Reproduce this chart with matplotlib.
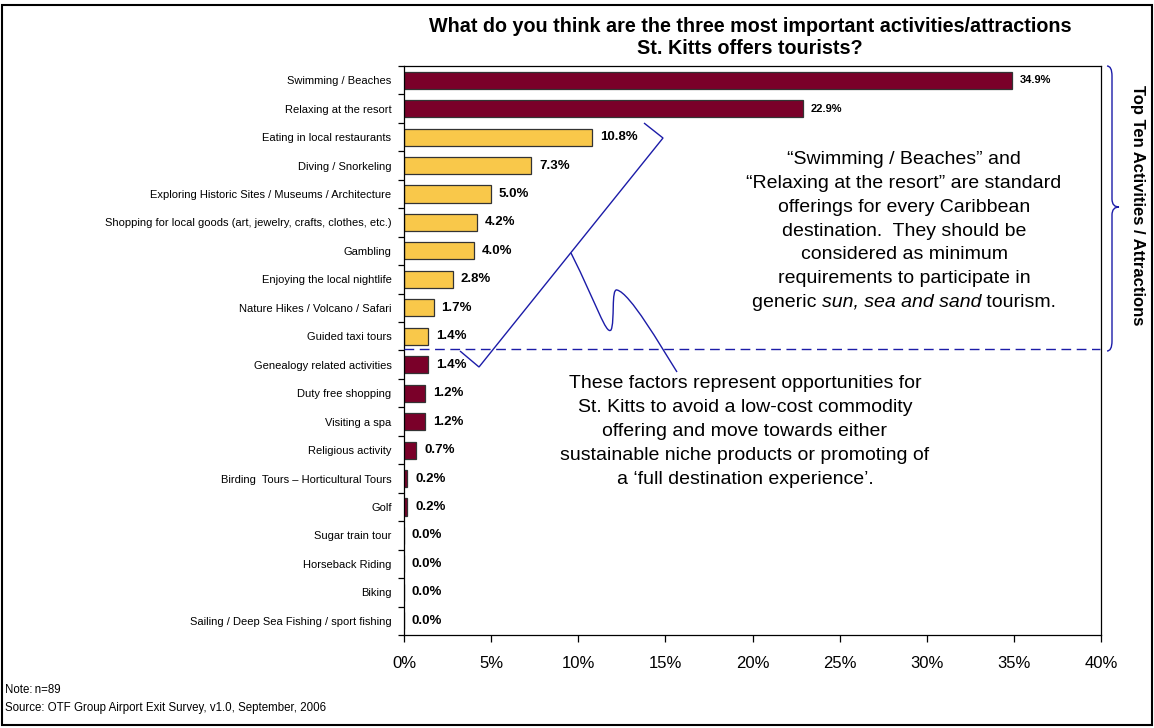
import numpy as np
import matplotlib.pyplot as plt
from matplotlib.path import Path
from matplotlib.patches import PathPatch, Rectangle
from matplotlib.ticker import FixedLocator

plt.rcParams['font.family'] = ['Liberation Sans', 'DejaVu Sans']

categories = [
    "Swimming / Beaches",
    "Relaxing at the resort",
    "Eating in local restaurants",
    "Diving / Snorkeling",
    "Exploring Historic Sites / Museums / Architecture",
    "Shopping for local goods (art, jewelry, crafts, clothes, etc.)",
    "Gambling",
    "Enjoying the local nightlife",
    "Nature Hikes / Volcano / Safari",
    "Guided taxi tours",
    "Genealogy related activities",
    "Duty free shopping",
    "Visiting a spa",
    "Religious activity",
    "Birding  Tours \u2013 Horticultural Tours",
    "Golf",
    "Sugar train tour",
    "Horseback Riding",
    "Biking",
    "Sailing / Deep Sea Fishing / sport fishing",
]
values = [34.9, 22.9, 10.8, 7.3, 5.0, 4.2, 4.0, 2.8, 1.7, 1.4,
          1.4, 1.2, 1.2, 0.7, 0.2, 0.2, 0.0, 0.0, 0.0, 0.0]
# which bars are highlighted (yellow) as opportunities
highlight = [False, False, True, True, True, True, True, True, True, True,
             False, False, False, False, False, False, False, False, False, False]
xticks = [0, 5, 10, 15, 20, 25, 30, 35, 40]

MAROON = "#7a0029"
YELLOW = "#f9c84a"
BLUE = "#1c1ca8"

W, H = 1154, 728
fig = plt.figure(figsize=(W / 100, H / 100), dpi=100)


def px(x, y):
    # pixel position -> figure fraction
    return (x / W, 1 - y / H)


ax = fig.add_axes([404 / W, 1 - 635 / H, (1101 - 404) / W, (635 - 66) / H])

y = np.arange(len(categories))
colors = [YELLOW if h else MAROON for h in highlight]
ax.barh(y, values, height=0.6, color=colors, edgecolor="#333333", linewidth=0.9)

for i, (yi, v) in enumerate(zip(y, values)):
    # the two long bars carry smaller labels in the original
    ax.text(v + 0.45, yi, "{:.1f}%".format(v), va="center", ha="left",
            fontsize=8 if i < 2 else 9.5, fontweight="bold")

ax.set_xlim(0, 40)
ax.set_ylim(len(categories) - 0.5, -0.5)
ax.set_xticks(xticks)
ax.set_xticklabels(["{}%".format(t) for t in xticks], fontsize=12)
ax.set_yticks(y)
ax.set_yticklabels(categories, fontsize=8)
ax.yaxis.set_minor_locator(FixedLocator(np.arange(-0.5, len(categories), 1)))
ax.tick_params(axis="y", which="major", length=0, pad=9)
ax.tick_params(axis="y", which="minor", length=4, width=0.9, direction="out")
ax.tick_params(axis="x", length=5, width=0.9, direction="out", pad=10)
for s in ax.spines.values():
    s.set_linewidth(0.9)

# title
fig.text(*px(750, 27), "What do you think are the three most important activities/attractions",
         ha="center", va="center", fontsize=14.2, fontweight="bold")
fig.text(*px(750, 48), "St. Kitts offers tourists?",
         ha="center", va="center", fontsize=14.2, fontweight="bold")

# dashed separator between top ten and the rest
fig.add_artist(plt.Line2D([404 / W, 1100 / W], [1 - 349 / H, 1 - 349 / H],
                          transform=fig.transFigure, color=BLUE, lw=1,
                          linestyle=(0, (7, 4))))

# curly brace on the right
bx0, bx1, tip = 1107, 1112, 1119
ytop, ymid, ybot = 66, 207, 351
brace = Path(
    [px(bx0, ytop), px(bx1, ytop), px(bx1, ytop + 10),
     px(bx1, ymid - 8), px(bx1, ymid), px(tip, ymid),
     px(bx1, ymid), px(bx1, ymid + 8),
     px(bx1, ybot - 10), px(bx1, ybot), px(bx0, ybot)],
    [Path.MOVETO, Path.CURVE3, Path.CURVE3,
     Path.LINETO, Path.CURVE3, Path.CURVE3,
     Path.CURVE3, Path.CURVE3,
     Path.LINETO, Path.CURVE3, Path.CURVE3])
fig.add_artist(PathPatch(brace, transform=fig.transFigure, fill=False,
                         edgecolor=BLUE, lw=1))
fig.text(*px(1138, 205), "Top Ten Activities / Attractions", rotation=-90,
         ha="center", va="center", fontsize=12, fontweight="bold")

# diagonal brace-like callout
callout = Path(
    [px(644, 123), px(663, 138), px(479, 367), px(460, 351)],
    [Path.MOVETO, Path.LINETO, Path.LINETO, Path.LINETO])
fig.add_artist(PathPatch(callout, transform=fig.transFigure, fill=False,
                         edgecolor=BLUE, lw=1))
branch = Path(
    [px(571, 253),
     px(597, 305), px(606, 335), px(611, 330),
     px(615, 322), px(611, 288), px(617, 290),
     px(630, 293), px(660, 345), px(677, 372)],
    [Path.MOVETO,
     Path.CURVE4, Path.CURVE4, Path.CURVE4,
     Path.CURVE4, Path.CURVE4, Path.CURVE4,
     Path.CURVE4, Path.CURVE4, Path.CURVE4])
fig.add_artist(PathPatch(branch, transform=fig.transFigure, fill=False,
                         edgecolor=BLUE, lw=1))

# commentary text (right)
note_lines = ["\u201cSwimming / Beaches\u201d and",
              "\u201cRelaxing at the resort\u201d are standard",
              "offerings for every Caribbean",
              "destination.  They should be",
              "considered as minimum",
              "requirements to participate in"]
line_gap = 23.7
for i, line in enumerate(note_lines):
    fig.text(*px(904, 160 + i * line_gap), line, ha="center", va="center", fontsize=14)

# last line with italic middle part
renderer = fig.canvas.get_renderer()
parts = [("generic ", "normal"), ("sun, sea and sand", "italic"), (" tourism.", "normal")]
texts = [fig.text(0, 0, p, fontsize=14, style=st, ha="left", va="center") for p, st in parts]
widths = [t.get_window_extent(renderer).width for t in texts]
x0 = 904 - sum(widths) / 2
for t, w in zip(texts, widths):
    t.set_position(px(x0, 160 + 6 * line_gap))
    x0 += w

# commentary text (bottom)
bottom_lines = ["These factors represent opportunities for",
                "St. Kitts to avoid a low-cost commodity",
                "offering and move towards either",
                "sustainable niche products or promoting of",
                "a \u2018full destination experience\u2019."]
for i, line in enumerate(bottom_lines):
    fig.text(*px(745, 384 + i * 24), line, ha="center", va="center", fontsize=14)

# notes
fig.text(*px(5, 690), "Note:\u2009n=89", ha="left", va="center", fontsize=8.3)
fig.text(*px(5, 708), "Source: OTF Group Airport Exit Survey, v1.0, September, 2006",
         ha="left", va="center", fontsize=8.3)

# outer frame
fig.add_artist(Rectangle(px(2, 725), (1150) / W, (720) / H, transform=fig.transFigure,
                         fill=False, edgecolor="black", lw=1.5))

fig.savefig("out.png", dpi=100)
